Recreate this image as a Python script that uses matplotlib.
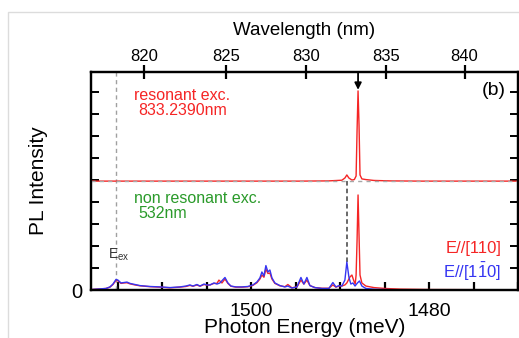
import numpy as np
import matplotlib
matplotlib.use("Agg")
import matplotlib.pyplot as plt
from matplotlib.patches import Rectangle, FancyArrowPatch

plt.rcParams['font.family'] = ['Liberation Sans', 'DejaVu Sans']
plt.rcParams['mathtext.fontset'] = 'custom'
plt.rcParams['mathtext.rm'] = 'Liberation Sans'
plt.rcParams['mathtext.it'] = 'Liberation Sans:italic'

HC = 1239841.98  # meV * nm

# ---------------- data (photon energy meV, PL intensity a.u.) ----------------
blue_E = [1518.0, 1516.99, 1516.31, 1515.87, 1515.53, 1515.19, 1514.97, 1514.63, 1514.29,
          1513.96, 1513.62, 1513.06, 1512.49, 1511.37, 1510.25, 1509.12, 1508.0, 1507.33,
          1506.88, 1506.54, 1506.09, 1505.75, 1505.30, 1504.97, 1504.63, 1504.18, 1503.84,
          1503.51, 1502.94, 1502.61, 1502.27, 1501.71, 1501.03, 1500.36, 1499.80, 1499.35,
          1499.01, 1498.79, 1498.56, 1498.34, 1498.11, 1497.89, 1497.66, 1497.33, 1496.76,
          1496.20, 1495.87, 1495.42, 1494.85, 1494.40, 1494.07, 1493.73, 1493.39, 1492.83,
          1492.04, 1491.26, 1490.81, 1490.47, 1490.13, 1489.80, 1489.46, 1489.24, 1489.01,
          1488.79, 1488.56, 1488.32, 1488.05, 1487.82, 1487.55, 1487.10, 1486.09, 1483.28,
          1470.0]
blue_I = [0.02, 0.05, 0.07, 0.14, 0.27, 0.48, 0.45, 0.32, 0.34,
          0.36, 0.30, 0.25, 0.20, 0.16, 0.14, 0.11, 0.14, 0.18,
          0.23, 0.18, 0.25, 0.18, 0.27, 0.23, 0.23, 0.32, 0.27,
          0.32, 0.57, 0.32, 0.18, 0.14, 0.14, 0.16, 0.23, 0.36,
          0.55, 0.82, 0.64, 1.11, 0.82, 0.91, 0.55, 0.32, 0.20,
          0.14, 0.18, 0.09, 0.14, 0.57, 0.27, 0.57, 0.20, 0.11,
          0.07, 0.07, 0.34, 0.14, 0.20, 0.18, 0.45, 1.27, 0.59,
          0.27, 0.32, 0.18, 0.32, 0.41, 0.18, 0.07, 0.03, 0.01,
          0.01]

red_E = [1518.0, 1516.99, 1516.31, 1515.87, 1515.53, 1515.19, 1514.97, 1514.63, 1514.29,
         1513.96, 1513.62, 1513.06, 1512.49, 1511.37, 1510.25, 1509.12, 1508.0, 1507.33,
         1506.88, 1506.54, 1506.09, 1505.75, 1505.30, 1504.97, 1504.63, 1504.18, 1503.84,
         1503.62, 1503.28, 1502.94, 1502.61, 1502.27, 1501.71, 1501.03, 1500.36, 1499.80,
         1499.35, 1499.01, 1498.79, 1498.56, 1498.34, 1498.11, 1497.89, 1497.66, 1497.33,
         1496.76, 1496.20, 1495.87, 1495.42, 1494.85, 1494.40, 1494.07, 1493.73, 1493.39,
         1492.83, 1492.04, 1491.26, 1490.81, 1490.47, 1490.13, 1489.80, 1489.46, 1489.24,
         1488.90, 1488.67, 1488.45, 1488.30, 1488.20, 1488.09, 1487.98, 1487.87, 1487.76,
         1487.55, 1487.10, 1486.20, 1484.97, 1483.28, 1479.9, 1470.0]
red_I = [0.02, 0.05, 0.07, 0.13, 0.25, 0.44, 0.42, 0.30, 0.32,
         0.33, 0.28, 0.23, 0.19, 0.15, 0.13, 0.10, 0.13, 0.16,
         0.21, 0.17, 0.23, 0.17, 0.25, 0.22, 0.23, 0.30, 0.30,
         0.45, 0.32, 0.50, 0.30, 0.17, 0.13, 0.13, 0.15, 0.21,
         0.33, 0.50, 0.68, 0.58, 0.95, 0.75, 0.77, 0.50, 0.30,
         0.19, 0.15, 0.25, 0.10, 0.14, 0.45, 0.27, 0.45, 0.20,
         0.11, 0.08, 0.08, 0.23, 0.13, 0.18, 0.18, 0.23, 0.32,
         0.59, 0.68, 0.41, 0.27, 0.68, 2.27, 4.32, 2.50, 0.68,
         0.32, 0.18, 0.11, 0.07, 0.04, 0.02, 0.01]

res_E = [1518.0, 1494.6, 1491.3, 1489.8, 1489.46, 1489.24, 1489.01, 1488.67, 1488.40,
         1488.20, 1488.09, 1487.98, 1487.87, 1487.76, 1487.55, 1487.10, 1486.20, 1484.40,
         1481.0, 1470.0]
res_I = [4.95, 4.95, 4.96, 4.99, 5.09, 5.23, 5.09, 5.00, 5.02,
         5.18, 7.27, 9.05, 7.50, 5.23, 5.05, 5.02, 4.98, 4.96,
         4.95, 4.95]

res_baseline = 4.95
E_ex = 1515.2
E_mark = 1489.24
E_exc_res = HC / 833.2390
arrow_tip = 9.1

wl_ticks = [820, 825, 830, 835, 840]
E_major = [1500, 1480]
E_minor = [1515, 1510, 1505, 1495, 1490, 1485, 1475, 1470]
xlim = (1518.0, 1470.0)
ylim = (0, 9.91)

RED = '#f52525'
BLUE = '#3535f2'
GREEN = '#2a9a2a'

# ---------------- figure ----------------
fig = plt.figure(figsize=(5.19, 3.38), dpi=100)
fig.patches.append(Rectangle((8 / 519, -0.01), 1.2, 1 - 12 / 338 + 0.01, transform=fig.transFigure,
                             fill=False, edgecolor='#dcdcdc', linewidth=1.0))
ax = fig.add_axes([91 / 519, 1 - 290 / 338, (518 - 91) / 519, (290 - 72) / 338])

ax.plot(red_E, red_I, color=RED, lw=1.0, zorder=3)
ax.plot(blue_E, blue_I, color=BLUE, lw=1.0, zorder=4)
ax.plot(res_E, res_I, color=RED, lw=1.0, zorder=3)
ax.axhline(res_baseline, color='#a8a8a8', lw=1.0, ls=(0, (3, 3)), zorder=5)
ax.axvline(E_ex, color='#a0a0a0', lw=1.0, ls=(0, (3, 2.5)), zorder=2)
ax.plot([E_mark, E_mark], [max(blue_I), res_baseline], color='#404040', lw=1.1,
        ls=(0, (3, 2)), zorder=2)
ax.add_patch(FancyArrowPatch((E_exc_res, ylim[1]), (E_exc_res, arrow_tip),
                             arrowstyle='-|>', mutation_scale=10, color='black',
                             lw=1.3, shrinkA=0, shrinkB=0, zorder=6, clip_on=False))

ax.set_xlim(*xlim)
ax.set_ylim(*ylim)

for s in ax.spines.values():
    s.set_linewidth(1.6)

ax.set_xticks(E_major)
ax.set_xticklabels([str(v) for v in E_major])
ax.set_xticks(E_minor, minor=True)
ax.tick_params(axis='x', which='both', direction='in', length=6, width=1.6,
               labelsize=14, pad=9, top=False)
yt = np.arange(0, 10, 1)
ax.set_yticks(yt)
ax.set_yticklabels(['0'] + [''] * (len(yt) - 1))
ax.tick_params(axis='y', which='both', direction='in', length=6, width=1.4,
               labelsize=14.5, pad=6, right=True)

ax.set_xlabel('Photon Energy (meV)', fontsize=15, labelpad=-1)
ax.set_ylabel('PL Intensity', fontsize=15, labelpad=17)

top = ax.twiny()
top.set_xlim(*xlim)
top.set_xticks([HC / w for w in wl_ticks])
top.set_xticklabels([str(w) for w in wl_ticks])
top.tick_params(axis='x', direction='inout', length=10, width=1.6, labelsize=12, pad=0.5)
for s in top.spines.values():
    s.set_linewidth(1.6)
top.set_xlabel('Wavelength (nm)', fontsize=13.5, labelpad=10)

ax.text(1513.17, 8.82, 'resonant exc.', color=RED, fontsize=11.5, ha='left', va='center')
ax.text(1512.72, 8.14, '833.2390nm', color=RED, fontsize=11.5, ha='left', va='center')
ax.text(1513.17, 4.18, 'non resonant exc.', color=GREEN, fontsize=11.5, ha='left', va='center')
ax.text(1512.72, 3.50, '532nm', color=GREEN, fontsize=11.5, ha='left', va='center')
ax.text(1516.1, 1.59, r'E$_{\rm ex}$', color='#333333', fontsize=10, ha='left', va='center')
ax.text(1471.4, 9.05, '(b)', color='black', fontsize=14, ha='right', va='center')
ax.text(1471.9, 1.88, 'E//[110]', color=RED, fontsize=12, ha='right', va='center')
ax.text(1471.9, 0.84, r'E//[1$\bar{\rm 1}$0]', color=BLUE, fontsize=12, ha='right', va='center')

fig.savefig('out.png', dpi=100)
